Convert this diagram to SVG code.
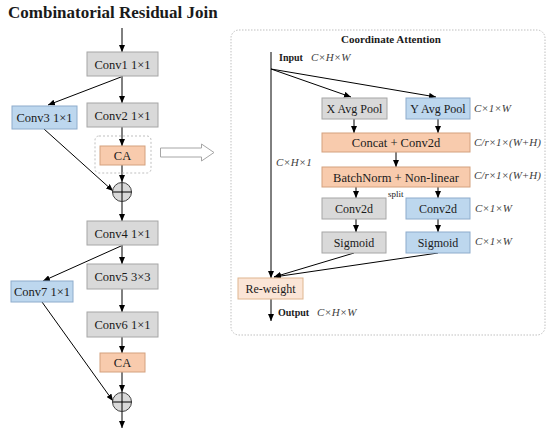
<svg xmlns="http://www.w3.org/2000/svg" width="550" height="436" viewBox="0 0 550 436">
<defs>
<marker id="ah" markerUnits="userSpaceOnUse" markerWidth="7" markerHeight="6" refX="7" refY="3" orient="auto"><path d="M0,0 L7,3 L0,6 z" fill="#000"/></marker>
<style>
text{font-family:"Liberation Serif","Times New Roman",serif;fill:#1a1a1a}
.lbl{font-size:12.5px;text-anchor:middle}
.lbs{font-size:12px;text-anchor:middle}
.dim{font-size:11px;font-style:italic;fill:#404040}
.bold{font-weight:bold}
.grey{fill:#d9d9d9;stroke:#a6a6a6;stroke-width:1}
.blue{fill:#bdd7ee;stroke:#8eaccc;stroke-width:1}
.orange{fill:#f8cbad;stroke:#d4a17f;stroke-width:1}
.peach{fill:#fbe5d6;stroke:#dfb690;stroke-width:1}
.ln{stroke:#000;stroke-width:1;fill:none}
.arr{stroke:#000;stroke-width:1;fill:none;marker-end:url(#ah)}
.sum{fill:#d9d9d9;stroke:#404040;stroke-width:1}
</style>
</defs>
<rect width="550" height="436" fill="#fff"/>
<text x="8" y="18" font-size="17" class="bold">Combinatorial Residual Join</text>

<g id="connectors">
<line class="arr" x1="122" y1="28" x2="122" y2="52"/>
<line class="arr" x1="122" y1="76" x2="122" y2="103"/>
<line class="arr" x1="121" y1="77" x2="48" y2="105"/>
<line class="arr" x1="122" y1="127" x2="122" y2="146"/>
<line class="arr" x1="122" y1="165" x2="122" y2="182"/>
<line class="arr" x1="44" y1="129" x2="113" y2="191"/>
<line class="arr" x1="122" y1="202" x2="122" y2="221"/>
<line class="arr" x1="122" y1="245" x2="122" y2="264"/>
<line class="arr" x1="121" y1="246" x2="43" y2="281"/>
<line class="arr" x1="122" y1="289" x2="122" y2="312"/>
<line class="arr" x1="122" y1="337" x2="122" y2="353"/>
<line class="arr" x1="122" y1="372" x2="122" y2="392"/>
<line class="arr" x1="42" y1="302" x2="113" y2="401"/>
<line class="arr" x1="122" y1="412" x2="122" y2="428"/>
<line class="arr" x1="271" y1="52" x2="271" y2="278"/>
<line class="arr" x1="271" y1="69" x2="351" y2="97"/>
<line class="arr" x1="271" y1="69" x2="436" y2="97"/>
<line class="arr" x1="354" y1="119" x2="354" y2="133"/>
<line class="arr" x1="438" y1="119" x2="438" y2="133"/>
<line class="arr" x1="396" y1="152" x2="396" y2="167"/>
<line class="arr" x1="356" y1="187" x2="356" y2="198"/>
<line class="arr" x1="438" y1="187" x2="438" y2="198"/>
<line class="arr" x1="356" y1="219" x2="356" y2="232"/>
<line class="arr" x1="438" y1="219" x2="438" y2="232"/>
<line class="arr" x1="354" y1="253" x2="274" y2="277"/>
<line class="arr" x1="438" y1="253" x2="274" y2="277"/>
<line class="arr" x1="271" y1="299" x2="271" y2="321"/>
</g>

<g id="conv1"><rect class="grey" x="87" y="52" width="71" height="24"/><text class="lbl" x="122.5" y="68.5">Conv1 1×1</text></g>
<g id="conv2"><rect class="grey" x="87" y="103" width="71" height="24"/><text class="lbl" x="122.5" y="119.5">Conv2 1×1</text></g>
<g id="conv3"><rect class="blue" x="12" y="106" width="65" height="23"/><text class="lbl" x="44.5" y="122">Conv3 1×1</text></g>
<g id="ca-frame"><rect x="95" y="136" width="56" height="37" rx="4" fill="none" stroke="#bfbfbf" stroke-width="1" stroke-dasharray="2,2"/></g>
<g id="ca1"><rect class="orange" x="100" y="146" width="45" height="19"/><text class="lbl" x="122.5" y="160">CA</text></g>
<g id="sum1"><circle class="sum" cx="122" cy="192" r="9.5"/><line class="ln" x1="112.5" y1="192" x2="131.5" y2="192"/><line class="ln" x1="122" y1="182.5" x2="122" y2="201.5"/></g>
<g id="conv4"><rect class="grey" x="87" y="221" width="71" height="24"/><text class="lbl" x="122.5" y="237.5">Conv4 1×1</text></g>
<g id="conv5"><rect class="grey" x="87" y="264" width="71" height="25"/><text class="lbl" x="122.5" y="281">Conv5 3×3</text></g>
<g id="conv7"><rect class="blue" x="11" y="281" width="62" height="21"/><text class="lbl" x="42" y="296">Conv7 1×1</text></g>
<g id="conv6"><rect class="grey" x="87" y="312" width="71" height="25"/><text class="lbl" x="122.5" y="329">Conv6 1×1</text></g>
<g id="ca2"><rect class="orange" x="100" y="353" width="45" height="19"/><text class="lbl" x="122.5" y="367">CA</text></g>
<g id="sum2"><circle class="sum" cx="122" cy="402" r="9.5"/><line class="ln" x1="112.5" y1="402" x2="131.5" y2="402"/><line class="ln" x1="122" y1="392.5" x2="122" y2="411.5"/></g>

<g id="expand-arrow"><path d="M160.5,148 H201.5 V144 L214,152.5 L201.5,161 V157 H160.5 Z" fill="#fff" stroke="#a6a6a6" stroke-width="1"/></g>

<g id="ca-panel">
<rect x="231" y="30" width="314" height="305" rx="8" fill="none" stroke="#bfbfbf" stroke-width="1" stroke-dasharray="1.5,1.5"/>
<text x="391" y="43" font-size="11" class="bold" text-anchor="middle">Coordinate Attention</text>
<text x="279" y="61" font-size="10" class="bold">Input</text>
<text class="dim" x="311" y="61">C×H×W</text>
<text class="dim" x="276" y="166">C×H×1</text>
</g>
<g id="xpool"><rect class="grey" x="322" y="98" width="65" height="21"/><text class="lbs" x="354.5" y="113">X Avg Pool</text></g>
<g id="ypool"><rect class="blue" x="406" y="98" width="64" height="21"/><text class="lbs" x="438" y="113">Y Avg Pool</text></g>
<text class="dim" x="474" y="112">C×1×W</text>
<g id="concat"><rect class="orange" x="322" y="133" width="148" height="19"/><text class="lbl" x="396" y="147">Concat + Conv2d</text></g>
<text class="dim" x="474" y="146">C/r×1×(W+H)</text>
<g id="bn"><rect class="orange" x="322" y="167" width="148" height="20"/><text class="lbl" x="396" y="181.5">BatchNorm + Non-linear</text></g>
<text class="dim" x="474" y="179">C/r×1×(W+H)</text>
<text x="388" y="197" font-size="9">split</text>
<g id="conv2d-x"><rect class="grey" x="322" y="198" width="64" height="21"/><text class="lbs" x="354" y="213">Conv2d</text></g>
<g id="conv2d-y"><rect class="blue" x="406" y="198" width="64" height="21"/><text class="lbs" x="438" y="213">Conv2d</text></g>
<text class="dim" x="475" y="212">C×1×W</text>
<g id="sig-x"><rect class="grey" x="322" y="232" width="64" height="21"/><text class="lbs" x="354" y="246.5">Sigmoid</text></g>
<g id="sig-y"><rect class="blue" x="406" y="232" width="64" height="21"/><text class="lbs" x="438" y="246.5">Sigmoid</text></g>
<text class="dim" x="475" y="245">C×1×W</text>
<g id="reweight"><rect class="peach" x="238" y="278" width="65" height="21"/><text class="lbs" x="270.5" y="293">Re-weight</text></g>
<text x="278" y="316" font-size="10" class="bold">Output</text>
<text class="dim" x="317" y="316">C×H×W</text>
</svg>
